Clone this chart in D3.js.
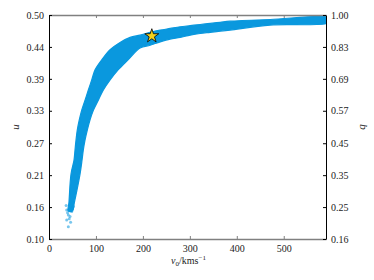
<!DOCTYPE html>
<html>
<head>
<meta charset="utf-8">
<script src="https://d3js.org/d3.v7.min.js"></script>
<style>
  body { margin: 0; background: #fff; }
  text { font-family: "Liberation Serif", "DejaVu Serif", serif; }
</style>
</head>
<body>
<div id="chart"></div>
<script>
// band edges (v0 in km/s, u)
var upperV = [41.0, 42.5, 46.9, 53.3, 55.4, 57.6, 60.3, 64.6, 69.7, 76.8, 83.8, 91.0, 98.1, 112.4, 130.1,
              151.4, 172.7, 194.0, 215.4, 236.7, 258.0, 279.3, 300.6, 321.9, 343.3, 364.6, 385.9, 471.2, 600];
var upperU = [0.150, 0.165, 0.216, 0.241, 0.259, 0.277, 0.295, 0.313, 0.330, 0.348, 0.366, 0.384, 0.402, 0.420, 0.438,
              0.451, 0.460, 0.464, 0.469, 0.473, 0.476, 0.479, 0.481, 0.483, 0.485, 0.487, 0.489, 0.492, 0.495];
var lowerV = [50.0, 54.0, 66.1, 70.4, 73.1, 76.8, 81.7, 87.4, 94.5, 105.1, 115.8, 130.1, 147.1, 168.4,
              194.0, 215.4, 236.7, 258.0, 279.3, 300.6, 321.9, 343.3, 364.6, 385.9, 471.2, 600];
var lowerU = [0.150, 0.165, 0.216, 0.241, 0.259, 0.277, 0.295, 0.313, 0.330, 0.348, 0.366, 0.384, 0.402, 0.420,
              0.441, 0.446, 0.452, 0.457, 0.460, 0.464, 0.467, 0.469, 0.471, 0.473, 0.482, 0.487];

// loose points in the low tail
var tailV = [41.2, 37.7, 44.8, 48.4, 37.7, 51.8, 41.2, 46.0, 39.5, 43.0, 49.5, 36.5];
var tailU = [0.122, 0.134, 0.140, 0.149, 0.152, 0.158, 0.143, 0.130, 0.147, 0.136, 0.155, 0.160];

// marked star
var starV = 219, starU = 0.4625;

var xTicks = [0, 100, 200, 300, 400, 500];
var uTicks = [0.10, 0.157, 0.214, 0.271, 0.329, 0.386, 0.443, 0.50];
var uLabels = ["0.10", "0.16", "0.21", "0.27", "0.33", "0.39", "0.44", "0.50"];
var qLabels = ["0.16", "0.25", "0.35", "0.45", "0.57", "0.69", "0.83", "1.00"];

var W = 374, H = 280;
var margin = {top: 15, right: 48, bottom: 41, left: 49};
var width = W - margin.left - margin.right,
    height = H - margin.top - margin.bottom;

var svg = d3.select("#chart").append("svg")
  .attr("width", W).attr("height", H)
  .append("g")
  .attr("transform", "translate(" + margin.left + "," + margin.top + ")");

var x = d3.scaleLinear().domain([0, 590]).range([0, width]);
var y = d3.scaleLinear().domain([0.10, 0.50]).range([height, 0]);

var blue = "#0a98de";

// band polygon: upper edge then lower edge reversed
var band = [];
upperV.forEach(function(v, i) { band.push([v, upperU[i]]); });
for (var i = lowerV.length - 1; i >= 0; i--) band.push([lowerV[i], lowerU[i]]);

svg.append("clipPath").attr("id", "clip")
  .append("rect").attr("width", width).attr("height", height);

svg.append("path")
  .datum(band)
  .attr("clip-path", "url(#clip)")
  .attr("fill", blue)
  .attr("stroke", blue)
  .attr("stroke-width", 1.2)
  .attr("stroke-linejoin", "round")
  .attr("d", d3.line()
    .x(function(d) { return x(d[0]); })
    .y(function(d) { return y(d[1]); })
    .curve(d3.curveCatmullRomClosed.alpha(0.5)));

svg.append("g").selectAll("circle")
  .data(tailV)
  .enter().append("circle")
  .attr("cx", function(d) { return x(d); })
  .attr("cy", function(d, i) { return y(tailU[i]); })
  .attr("r", 1.5)
  .attr("fill", blue)
  .attr("fill-opacity", 0.55);

// star
svg.append("path")
  .attr("d", d3.symbol().type(d3.symbolStar).size(60))
  .attr("transform", "translate(" + x(starV) + "," + y(starU) + ")")
  .attr("fill", "#f5d21c")
  .attr("stroke", "#000")
  .attr("stroke-width", 0.8);

// axes
function styleAxis(g, color, sw) {
  g.select(".domain").attr("stroke", color).attr("stroke-width", sw);
  g.selectAll(".tick line").attr("stroke", color);
  g.selectAll(".tick text").attr("fill", "#222").attr("font-size", "10px")
    .attr("font-family", "'Liberation Serif', 'DejaVu Serif', serif");
}

var bottomAx = svg.append("g")
  .attr("transform", "translate(0," + height + ")")
  .call(d3.axisBottom(x).tickValues(xTicks).tickSize(-3).tickSizeOuter(0).tickPadding(6));
styleAxis(bottomAx, "#808080", 1.6);

var topAx = svg.append("g")
  .call(d3.axisTop(x).tickValues(xTicks).tickSize(-3).tickSizeOuter(0).tickFormat(""));
styleAxis(topAx, "#808080", 1.6);

var leftAx = svg.append("g")
  .call(d3.axisLeft(y).tickValues(uTicks).tickSize(-3).tickSizeOuter(0).tickPadding(5)
    .tickFormat(function(d, i) { return uLabels[i]; }));
styleAxis(leftAx, "#000", 1);

var rightAx = svg.append("g")
  .attr("transform", "translate(" + width + ",0)")
  .call(d3.axisRight(y).tickValues(uTicks).tickSize(-3).tickSizeOuter(0).tickPadding(5)
    .tickFormat(function(d, i) { return qLabels[i]; }));
styleAxis(rightAx, "#000", 1);

// axis titles
var xl = svg.append("text")
  .attr("x", width / 2 + 1)
  .attr("y", height + 25)
  .attr("text-anchor", "middle")
  .attr("font-size", "10px")
  .attr("fill", "#222");
xl.append("tspan").attr("font-style", "italic").text("v");
xl.append("tspan").attr("font-size", "7px").attr("dy", 2).text("0");
xl.append("tspan").attr("dy", -2).text("/kms");
xl.append("tspan").attr("font-size", "7px").attr("dy", -4).text("\u22121");

svg.append("text")
  .attr("transform", "translate(" + (-30) + "," + (height / 2) + ") rotate(-90)")
  .attr("text-anchor", "middle")
  .attr("font-size", "11px")
  .attr("font-style", "italic")
  .attr("fill", "#222")
  .text("u");

svg.append("text")
  .attr("transform", "translate(" + (width + 39) + "," + (height / 2) + ") rotate(-90)")
  .attr("text-anchor", "middle")
  .attr("font-size", "11px")
  .attr("font-style", "italic")
  .attr("fill", "#222")
  .text("q");
</script>
</body>
</html>
